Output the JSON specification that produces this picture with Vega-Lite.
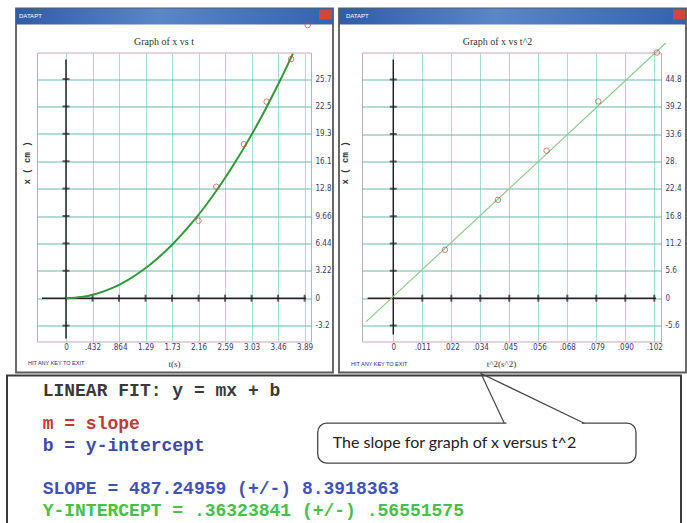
{
  "$schema": "https://vega.github.io/schema/vega-lite/v6.json",
  "background": "white",
  "padding": {"left": 5, "top": 6.5, "right": 0, "bottom": 0},
  "bounds": "flush",
  "spacing": 51,
  "config": {
    "view": {"stroke": "#c6a9b9", "strokeWidth": 1},
    "axis": {
      "labelFont": "Liberation Sans Narrow, DejaVu Sans Condensed, Liberation Sans",
      "labelFontSize": 8,
      "labelColor": "#3a3a70",
      "ticks": false,
      "domain": false,
      "grid": true,
      "gridWidth": 1,
      "labelOverlap": false,
      "labelFlush": false,
      "labelBound": false,
      "titleFont": "Liberation Serif",
      "titleFontWeight": "normal",
      "titleFontSize": 9,
      "titleColor": "#333333"
    }
  },
  "hconcat": [
    {
      "width": 274,
      "height": 289,
      "title": {"text": "Graph of x vs t", "anchor": "middle", "offset": 7, "dx": -10, "dy": 46, "font": "Liberation Serif", "fontSize": 10, "fontWeight": "normal", "color": "#333333"},
      "resolve": {"scale": {"x": "independent", "y": "independent"}},
      "layer": [
        {
          "encoding": {
            "x": {
              "field": "t", "type": "quantitative",
              "scale": {"domain": [-0.4728, 3.9942], "nice": false, "zero": false},
              "axis": {
                "orient": "bottom",
                "values": [0, 0.43222, 0.86444, 1.29667, 1.72889, 2.16111, 2.59333, 3.02556, 3.45778, 3.89],
                "labelExpr": "['0','.432','.864','1.29','1.73','2.16','2.59','3.03','3.46','3.89'][round(datum.value/0.43222)]",
                "gridColor": "#a9dbd7",
                "labelPadding": 2,
                "title": "t(s)",
                "titleX": 137, "titleY": 22, "titleAlign": "center", "titleBaseline": "middle"
              }
            },
            "y": {
              "field": "x_cm", "type": "quantitative",
              "scale": {"domain": [-5.089, 28.875], "nice": false, "zero": false},
              "axis": {
                "orient": "right",
                "values": [-3.22, 0, 3.22, 6.44, 9.66, 12.88, 16.1, 19.32, 22.54, 25.76],
                "labelExpr": "['-3.2','0','3.22','6.44','9.66','12.8','16.1','19.3','22.5','25.7'][round(datum.value/3.22)+1]",
                "gridColor": "#6cb7ae",
                "labelPadding": 4,
                "title": "x ( cm )",
                "titleFont": "Liberation Mono", "titleFontWeight": "bold",
                "titleAngle": -90, "titleX": -285, "titleY": 110, "titleAlign": "center", "titleBaseline": "middle"
              }
            }
          },
          "layer": [
            {
              "data": {"values": [{"t": -0.8151, "t_end": 4.3528, "x_cm": -8.732, "x_cm_end": 34.046}]},
              "mark": {"type": "rect", "fill": "white", "fillOpacity": 0, "stroke": "#5a5a5a", "strokeWidth": 1.8},
              "encoding": {"x2": {"field": "t_end"}, "y2": {"field": "x_cm_end"}}
            },
            {
              "data": {"values": [{"t": -0.8151, "t_end": 4.3528, "x_cm": 32.166, "x_cm_end": 34.046}]},
              "mark": {"type": "rect", "fill": {"gradient": "linear", "x1": 0, "y1": 0, "x2": 1, "y2": 0, "stops": [{"offset": 0, "color": "#2f5ca8"}, {"offset": 0.45, "color": "#5a87c8"}, {"offset": 1, "color": "#3463ae"}]}},
              "encoding": {"x2": {"field": "t_end"}, "y2": {"field": "x_cm_end"}}
            },
            {
              "data": {"values": [{"t": 4.1246, "t_end": 4.3365, "x_cm": 32.75, "x_cm_end": 33.93}]},
              "mark": {"type": "rect", "fill": "#d2453a"},
              "encoding": {"x2": {"field": "t_end"}, "y2": {"field": "x_cm_end"}}
            },
            {
              "data": {"values": [{"t": -0.766, "x_cm": 33.11, "label": "DATAPT"}]},
              "mark": {"type": "text", "align": "left", "baseline": "middle", "fontSize": 6, "font": "Liberation Sans", "color": "white"},
              "encoding": {"text": {"field": "label"}}
            },
            {
              "data": {"values": [{"t": -0.62, "x_cm": -7.674, "label": "HIT ANY KEY TO EXIT"}]},
              "mark": {"type": "text", "align": "left", "baseline": "middle", "fontSize": 5.5, "font": "Liberation Sans Narrow, Liberation Sans", "color": "#2a2a80"},
              "encoding": {"text": {"field": "label"}}
            },
            {
              "data": {"values": [{"t": -0.391, "t_end": 3.913, "x_cm": 0}]},
              "mark": {"type": "rule", "color": "#222222", "strokeWidth": 1.5},
              "encoding": {"x2": {"field": "t_end"}}
            },
            {
              "data": {"values": [{"t": 0, "x_cm": -4.74, "x_cm_end": 28.05}]},
              "mark": {"type": "rule", "color": "#222222", "strokeWidth": 1.5},
              "encoding": {"y2": {"field": "x_cm_end"}}
            },
            {
              "data": {"values": [{"t": 0, "x_cm": -3.22}, {"t": 0, "x_cm": 3.22}, {"t": 0, "x_cm": 6.44}, {"t": 0, "x_cm": 9.66}, {"t": 0, "x_cm": 12.88}, {"t": 0, "x_cm": 16.1}, {"t": 0, "x_cm": 19.32}, {"t": 0, "x_cm": 22.54}, {"t": 0, "x_cm": 25.76}]},
              "mark": {"type": "tick", "orient": "horizontal", "size": 7, "thickness": 2, "color": "#222222"}
            },
            {
              "data": {"values": [{"t": 0.43222, "x_cm": 0}, {"t": 0.86444, "x_cm": 0}, {"t": 1.29667, "x_cm": 0}, {"t": 1.72889, "x_cm": 0}, {"t": 2.16111, "x_cm": 0}, {"t": 2.59333, "x_cm": 0}, {"t": 3.02556, "x_cm": 0}, {"t": 3.45778, "x_cm": 0}, {"t": 3.89, "x_cm": 0}]},
              "mark": {"type": "tick", "orient": "vertical", "size": 7, "thickness": 2, "color": "#222222"}
            },
            {
              "data": {"values": [
                {"t": 0, "x_cm": 0}, {"t": 0.25, "x_cm": 0.13}, {"t": 0.5, "x_cm": 0.53}, {"t": 0.75, "x_cm": 1.18},
                {"t": 1.0, "x_cm": 2.1}, {"t": 1.25, "x_cm": 3.28}, {"t": 1.5, "x_cm": 4.73}, {"t": 1.75, "x_cm": 6.43},
                {"t": 2.0, "x_cm": 8.4}, {"t": 2.25, "x_cm": 10.63}, {"t": 2.5, "x_cm": 13.13}, {"t": 2.75, "x_cm": 15.88},
                {"t": 3.0, "x_cm": 18.9}, {"t": 3.25, "x_cm": 22.18}, {"t": 3.5, "x_cm": 25.73}, {"t": 3.7, "x_cm": 28.75}
              ]},
              "mark": {"type": "line", "color": "#2e9a3a", "strokeWidth": 2, "interpolate": "monotone"}
            },
            {
              "data": {"values": [
                {"t": 2.16, "x_cm": 9.1}, {"t": 2.45, "x_cm": 13.1}, {"t": 2.9, "x_cm": 18.1},
                {"t": 3.27, "x_cm": 23.1}, {"t": 3.67, "x_cm": 28.1}, {"t": 3.94, "x_cm": 32.1}
              ]},
              "mark": {"type": "point", "shape": "circle", "filled": false, "size": 30, "stroke": "#c04a3a", "strokeWidth": 1}
            }
          ]
        },
        {
          "encoding": {
            "x": {"field": "u", "type": "quantitative", "scale": {"domain": [0, 100], "range": [0, 644], "nice": false, "zero": false}, "axis": null},
            "y": {"field": "w", "type": "quantitative", "scale": {"domain": [0, 100], "range": [323, 472], "nice": false, "zero": false}, "axis": null}
          },
          "layer": [
            {
              "data": {"values": [{"u": -4.66, "u_end": 100, "w": 0, "w_end": 101}]},
              "mark": {"type": "rect", "fill": "white", "fillOpacity": 0, "stroke": "#3a3a3a", "strokeWidth": 2},
              "encoding": {"x2": {"field": "u_end"}, "y2": {"field": "w_end"}}
            },
            {
              "data": {"values": [
                {"u": 0.88, "w": 10.1, "role": "header", "line": "LINEAR FIT:  y = mx + b"},
                {"u": 0.88, "w": 32.3, "role": "m", "line": "m = slope"},
                {"u": 0.88, "w": 47.3, "role": "b", "line": "b = y-intercept"},
                {"u": 0.88, "w": 76.5, "role": "slope", "line": "SLOPE = 487.24959 (+/-) 8.3918363"},
                {"u": 0.88, "w": 91.0, "role": "intercept", "line": "Y-INTERCEPT = .36323841 (+/-) .56551575"}
              ]},
              "mark": {"type": "text", "align": "left", "baseline": "middle", "font": "Liberation Mono", "fontWeight": "bold", "fontSize": 18},
              "encoding": {
                "text": {"field": "line"},
                "color": {"field": "role", "type": "nominal", "legend": null,
                  "scale": {"domain": ["header", "m", "b", "slope", "intercept"], "range": ["#3a3a3a", "#c0393b", "#3b49a8", "#4052b5", "#45c048"]}}
              }
            },
            {
              "data": {"values": [{"u": 43.59, "u_end": 93.01, "w": 32.0, "w_end": 58.86}]},
              "mark": {"type": "rect", "fill": "white", "stroke": "#444444", "strokeWidth": 1.3, "cornerRadius": 9},
              "encoding": {"x2": {"field": "u_end"}, "y2": {"field": "w_end"}}
            },
            {
              "data": {"values": [{"u": 72.9, "u_end": 84.6, "w": 32.0}]},
              "mark": {"type": "rule", "color": "white", "strokeWidth": 3},
              "encoding": {"x2": {"field": "u_end"}}
            },
            {
              "data": {"values": [{"u": 72.56, "w": 32.0, "k": 0}, {"u": 68.94, "w": -1.34, "k": 1}, {"u": 84.98, "w": 32.0, "k": 2}]},
              "mark": {"type": "line", "color": "#444444", "strokeWidth": 1.2},
              "encoding": {"order": {"field": "k", "type": "quantitative"}}
            },
            {
              "data": {"values": [{"u": 45.92, "w": 45.4, "note": "The slope for graph of x versus t^2"}]},
              "mark": {"type": "text", "align": "left", "baseline": "middle", "font": "Liberation Sans Narrow, Lato, Liberation Sans", "fontSize": 16, "color": "#222222"},
              "encoding": {"text": {"field": "note"}}
            }
          ]
        }
      ]
    },
    {
      "width": 299,
      "height": 289,
      "title": {"text": "Graph of x vs t^2", "anchor": "middle", "offset": 7, "dx": -14, "dy": 46, "font": "Liberation Serif", "fontSize": 10, "fontWeight": "normal", "color": "#333333"},
      "encoding": {
        "x": {
          "field": "t2", "type": "quantitative",
          "scale": {"domain": [-0.01223, 0.10462], "nice": false, "zero": false},
          "axis": {
            "orient": "bottom",
            "values": [0, 0.011333, 0.022667, 0.034, 0.045333, 0.056667, 0.068, 0.079333, 0.090667, 0.102],
            "labelExpr": "['0','.011','.022','.034','.045','.056','.068','.079','.090','.102'][round(datum.value/0.011333)]",
            "gridColor": "#a9dbd7",
            "labelPadding": 2,
            "title": "t^2(s^2)",
            "titleX": 139, "titleY": 22, "titleAlign": "center", "titleBaseline": "middle"
          }
        },
        "y": {
          "field": "x_cm", "type": "quantitative",
          "scale": {"domain": [-8.866, 50.307], "nice": false, "zero": false},
          "axis": {
            "orient": "right",
            "values": [-5.6, 0, 5.6, 11.2, 16.8, 22.4, 28, 33.6, 39.2, 44.8],
            "labelExpr": "['-5.6','0','5.6','11.2','16.8','22.4','28.','33.6','39.2','44.8'][round(datum.value/5.6)+1]",
            "gridColor": "#6cb7ae",
            "labelPadding": 4,
            "title": "x ( cm )",
            "titleFont": "Liberation Mono", "titleFontWeight": "bold",
            "titleAngle": -90, "titleX": -317, "titleY": 110, "titleAlign": "center", "titleBaseline": "middle"
          }
        }
      },
      "layer": [
        {
          "data": {"values": [{"t2": -0.02122, "t2_end": 0.11439, "x_cm": -15.21, "x_cm_end": 59.32}]},
          "mark": {"type": "rect", "fill": "white", "fillOpacity": 0, "stroke": "#5a5a5a", "strokeWidth": 1.8},
          "encoding": {"x2": {"field": "t2_end"}, "y2": {"field": "x_cm_end"}}
        },
        {
          "data": {"values": [{"t2": -0.02122, "t2_end": 0.11439, "x_cm": 56.04, "x_cm_end": 59.32}]},
          "mark": {"type": "rect", "fill": {"gradient": "linear", "x1": 0, "y1": 0, "x2": 1, "y2": 0, "stops": [{"offset": 0, "color": "#2f5ca8"}, {"offset": 0.45, "color": "#5a87c8"}, {"offset": 1, "color": "#3463ae"}]}},
          "encoding": {"x2": {"field": "t2_end"}, "y2": {"field": "x_cm_end"}}
        },
        {
          "data": {"values": [{"t2": 0.10931, "t2_end": 0.114, "x_cm": 57.07, "x_cm_end": 59.11}]},
          "mark": {"type": "rect", "fill": "#d2453a"},
          "encoding": {"x2": {"field": "t2_end"}, "y2": {"field": "x_cm_end"}}
        },
        {
          "data": {"values": [{"t2": -0.0185, "x_cm": 57.68, "label": "DATAPT"}]},
          "mark": {"type": "text", "align": "left", "baseline": "middle", "fontSize": 6, "font": "Liberation Sans", "color": "white"},
          "encoding": {"text": {"field": "label"}}
        },
        {
          "data": {"values": [{"t2": -0.01653, "x_cm": -13.57, "label": "HIT ANY KEY TO EXIT"}]},
          "mark": {"type": "text", "align": "left", "baseline": "middle", "fontSize": 5.5, "font": "Liberation Sans Narrow, Liberation Sans", "color": "#2a2a80"},
          "encoding": {"text": {"field": "label"}}
        },
        {
          "data": {"values": [{"t2": -0.01, "t2_end": 0.10267, "x_cm": 0}]},
          "mark": {"type": "rule", "color": "#222222", "strokeWidth": 1.5},
          "encoding": {"x2": {"field": "t2_end"}}
        },
        {
          "data": {"values": [{"t2": 0, "x_cm": -7.43, "x_cm_end": 48.87}]},
          "mark": {"type": "rule", "color": "#222222", "strokeWidth": 1.5},
          "encoding": {"y2": {"field": "x_cm_end"}}
        },
        {
          "data": {"values": [{"t2": 0, "x_cm": -5.6}, {"t2": 0, "x_cm": 5.6}, {"t2": 0, "x_cm": 11.2}, {"t2": 0, "x_cm": 16.8}, {"t2": 0, "x_cm": 22.4}, {"t2": 0, "x_cm": 28}, {"t2": 0, "x_cm": 33.6}, {"t2": 0, "x_cm": 39.2}, {"t2": 0, "x_cm": 44.8}]},
          "mark": {"type": "tick", "orient": "horizontal", "size": 7, "thickness": 2, "color": "#222222"}
        },
        {
          "data": {"values": [{"t2": 0.011333, "x_cm": 0}, {"t2": 0.022667, "x_cm": 0}, {"t2": 0.034, "x_cm": 0}, {"t2": 0.045333, "x_cm": 0}, {"t2": 0.056667, "x_cm": 0}, {"t2": 0.068, "x_cm": 0}, {"t2": 0.079333, "x_cm": 0}, {"t2": 0.090667, "x_cm": 0}, {"t2": 0.102, "x_cm": 0}]},
          "mark": {"type": "tick", "orient": "vertical", "size": 7, "thickness": 2, "color": "#222222"}
        },
        {
          "data": {"values": [{"t2": -0.01067, "x_cm": -4.84}, {"t2": 0.1065, "x_cm": 52.25}]},
          "mark": {"type": "line", "color": "#8ccc8c", "strokeWidth": 1.2}
        },
        {
          "data": {"values": [
            {"t2": 0.0202, "x_cm": 9.91}, {"t2": 0.0409, "x_cm": 20.15}, {"t2": 0.0599, "x_cm": 30.2},
            {"t2": 0.0801, "x_cm": 40.3}, {"t2": 0.103, "x_cm": 50.3}
          ]},
          "mark": {"type": "point", "shape": "circle", "filled": false, "size": 30, "stroke": "#c04a3a", "strokeWidth": 1}
        }
      ]
    }
  ]
}
